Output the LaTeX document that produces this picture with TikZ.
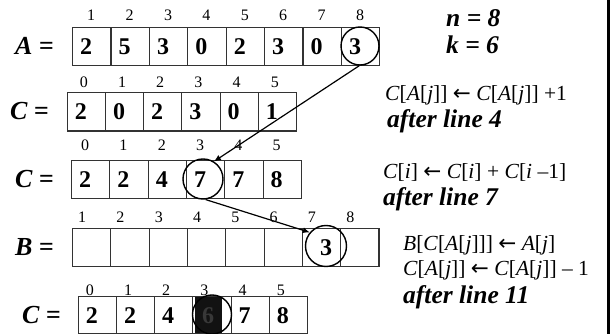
\documentclass[tikz,border=0pt]{standalone}
\usepackage{fontspec}
\setmainfont{Liberation Serif}
\newfontfamily\arrowfont{DejaVu Sans}
\newcommand\getsarrow{{\arrowfont ←}}
\usetikzlibrary{arrows.meta}
\begin{document}
\begin{tikzpicture}[x=1pt,y=-1pt,
  cell/.style={draw=black!80, line width=1.1pt, inner sep=0pt, anchor=north west},
  digit/.style={anchor=base, inner sep=0pt, font=\fontsize{24}{24}\selectfont\bfseries},
  idx/.style={anchor=base, inner sep=0pt, font=\fontsize{16}{16}\selectfont},
  arrname/.style={anchor=base east, inner sep=0pt, font=\fontsize{26}{26}\selectfont\bfseries\itshape},
  ring/.style={draw=black, line width=1.4pt, circle, inner sep=0pt},
  conn/.style={draw=black, line width=1.2pt, -{Latex[length=7pt,width=6pt]}},
  formula/.style={anchor=base west, inner sep=0pt, font=\fontsize{21.5}{21.5}\selectfont},
  note/.style={anchor=base west, inner sep=0pt, font=\fontsize{25.5}{25.5}\selectfont\bfseries\itshape}]
\useasboundingbox (0,0) rectangle (611,334);

% ---- array A (indices 1..8) ----
\node[arrname] (Alab) at (54,54.5) {A =};
\foreach \v [count=\i] in {2,5,3,0,2,3,0,3} {
  \node[cell, minimum width=38.4pt, minimum height=38pt] (A\i) at ({72+(\i-1)*38.4},27) {};
  \node[digit] (A\i v) at ({72+(\i-0.5)*38.4-5},54.5) {\v};
  \node[idx] (A\i i) at ({72+(\i-0.5)*38.4},20.5) {\i};
}

% ---- C after line 4 (indices 0..5) ----
\node[arrname] (Calab) at (49,120) {C =};
\foreach \v [count=\i] in {2,0,2,3,0,1} {
  \pgfmathtruncatemacro{\k}{\i-1}
  \node[cell, minimum width=38.2pt, minimum height=38.5pt] (Ca\i) at ({66.7+(\i-1)*38.2},92) {};
  \node[digit] (Ca\i v) at ({66.7+(\i-0.5)*38.2-5},120) {\v};
  \node[idx] (Ca\i i) at ({66.7+(\i-0.5)*38.2-2},88) {\k};
}

% ---- C after line 7 ----
\node[arrname] (Cblab) at (54,187.5) {C =};
\foreach \v [count=\i] in {2,2,4,7,7,8} {
  \pgfmathtruncatemacro{\k}{\i-1}
  \node[cell, minimum width=38.3pt, minimum height=38pt] (Cb\i) at ({71+(\i-1)*38.3},160) {};
  \node[digit] (Cb\i v) at ({71+(\i-0.5)*38.3-5},187.5) {\v};
  \node[idx] (Cb\i i) at ({71+(\i-0.5)*38.3-5},150.5) {\k};
}

% ---- output array B (indices 1..8) ----
\node[arrname] (Blab) at (54,255.5) {B =};
\foreach \i in {1,...,8} {
  \node[cell, minimum width=38.3pt, minimum height=38pt] (B\i) at ({72+(\i-1)*38.3},228) {};
  \node[idx] (B\i i) at ({72+(\i-0.5)*38.3-9},222.5) {\i};
}
\node[digit] (B7v) at (326,255.5) {3};

% ---- C after line 11 ----
\node[arrname] (Cclab) at (61,323) {C =};
\node[fill=black!93, minimum width=27pt, minimum height=37pt, inner sep=0pt, anchor=north west] (Ccmark) at (195,296) {};
\foreach \v [count=\i] in {2,2,4,6,7,8} {
  \pgfmathtruncatemacro{\k}{\i-1}
  \node[cell, minimum width=38.2pt, minimum height=37pt] (Cc\i) at ({77.7+(\i-1)*38.2},296) {};
  \node[idx] (Cc\i i) at ({77.7+(\i-0.5)*38.2-7},295) {\k};
}
\foreach \v [count=\i] in {2,2,4} {
  \node[digit] (Cc\i v) at ({77.7+(\i-0.5)*38.2-5},323) {\v};
}
\node[digit, text=black!78] (Cc4v) at (208,323) {6};
\node[digit] (Cc5v) at ({77.7+4.5*38.2-5},323) {7};
\node[digit] (Cc6v) at ({77.7+5.5*38.2-5},323) {8};

% ---- circled entries ----
\node[ring, minimum size=38pt] (Aring) at (360,46) {};
\node[ring, minimum size=40pt] (Cbring) at (203,179) {};
\node[ring, minimum size=41pt] (Bring) at (326,246) {};
\node[ring, minimum size=39pt] (Ccring) at (212,314.5) {};

% ---- moves ----
\draw[conn] (Aring.268) -- (Cbring.58);
\draw[conn] (Cbring.277) -- (Bring.140);

% ---- notes ----
\node[note] (nval) at (446,27) {n = 8};
\node[note] (kval) at (446,54) {k = 6};
\node[formula] (f1) at (385,101) {\textit{C}[\textit{A}[\textit{j}]] \getsarrow{} \textit{C}[\textit{A}[\textit{j}]] +1};
\node[note] (l4) at (387,128) {after line 4};
\node[formula] (f2) at (383,179) {\textit{C}[\textit{i}] \getsarrow{} \textit{C}[\textit{i}] + \textit{C}[\textit{i} –1]};
\node[note] (l7) at (383,206) {after line 7};
\node[formula] (f3) at (403,251) {\textit{B}[\textit{C}[\textit{A}[\textit{j}]]] \getsarrow{} \textit{A}[\textit{j}]};
\node[formula] (f4) at (403,275) {\textit{C}[\textit{A}[\textit{j}]] \getsarrow{} \textit{C}[\textit{A}[\textit{j}]] – 1};
\node[note] (l11) at (403,303) {after line 11};

% ---- right rule ----
\draw[line width=3pt] (608.5,0) -- (608.5,334);
\end{tikzpicture}
\end{document}
